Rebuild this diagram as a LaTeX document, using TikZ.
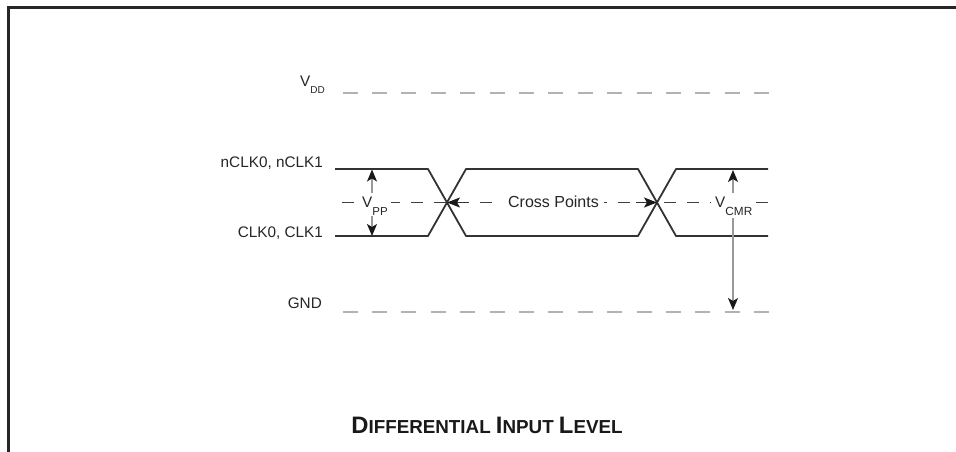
\documentclass[tikz,border=0pt]{standalone}
\usepackage{fontspec}
\setmainfont{Liberation Sans}
\usetikzlibrary{arrows.meta}
\newcommand\mysub[3]{\raisebox{-#2}{\fontsize{#3}{#3}\selectfont #1}}
\newcommand\fsc[2]{{\fontsize{23.8}{23.8}\selectfont #1}{\fontsize{18.8}{18.8}\selectfont #2}}
\begin{document}
\begin{tikzpicture}[x=1pt,y=-1pt,
  lbl/.style={font=\fontsize{15.3}{15.3}\selectfont, text=black!85, inner sep=0pt},
  sig/.style={line width=1.8pt, draw=black!80, line join=round},
  rail/.style={line width=2pt, draw=black!30, dash pattern=on 15pt off 14.4pt},
  midline/.style={line width=1.2pt, draw=black!75, dash pattern=on 12pt off 11pt},
  meas/.style={line width=1.3pt, draw=black!40, -{Stealth[length=12pt,width=10pt,inset=3pt,black!90]}},
  crossarr/.style={line width=1.2pt, draw=black!80, -{Stealth[length=13pt,width=10pt,inset=3pt,black!90]}},
  frame/.style={line width=3pt, draw=black!85}]
\useasboundingbox (0,0) rectangle (956,452);
\fill[white] (0,0) rectangle (956,452);
% frame
\draw[frame] (8.5,452) -- (8.5,7.5) -- (956,7.5);

% coordinates
\coordinate (vddL) at (342.5,93);
\coordinate (vddR) at (769,93);
\coordinate (gndL) at (342.5,312);
\coordinate (gndR) at (769,312);
\coordinate (midL) at (342,202.5);
\coordinate (midR) at (768,202.5);
\coordinate (x1) at (447,202.5);
\coordinate (x2) at (657,202.5);

% rails
\draw[rail] (vddL) -- (vddR);
\draw[rail] (gndL) -- (gndR);

% mid dashed line
\draw[midline] (midL) -- (midR);

% signals
\draw[sig] (335,169) -- (428,169) -- (466,236) -- (638,236) -- (676,169) -- (768,169);
\draw[sig] (335,236) -- (428,236) -- (466,169) -- (638,169) -- (676,236) -- (768,236);

% labels
\node[lbl, anchor=base west] (vdd) at (300,87) {V\mysub{DD}{6pt}{10}};
\node[lbl, anchor=base east] (nclk) at (323,167) {nCLK0, nCLK1};
\node[lbl, anchor=base east] (clk) at (323,237) {CLK0, CLK1};
\node[lbl, anchor=base east] (gnd) at (322,308) {GND};

\node[lbl, fill=white, inner xsep=3pt, anchor=base west] (vpp) at (359,207) {V\mysub{PP}{8pt}{11.5}};
\node[lbl, fill=white, inner xsep=5pt, anchor=base, font=\fontsize{16}{16}\selectfont] (cross) at (553.5,207) {Cross Points};
\node[lbl, fill=white, inner xsep=4pt, anchor=base west] (vcmr) at (711,207) {V\mysub{CMR}{8pt}{11.8}};

% VPP arrows
\coordinate (vppT) at (372,169.5);
\coordinate (vppB) at (372,236);
\coordinate (vppU) at (372,193);
\coordinate (vppD) at (372,216);
\draw[meas] (vppU) -- (vppT);
\draw[meas] (vppD) -- (vppB);

% VCMR arrows
\coordinate (cmrT) at (733,170);
\coordinate (cmrU) at (733,193);
\coordinate (cmrD) at (733,218);
\coordinate (cmrB) at (733,310);
\draw[meas] (cmrU) -- (cmrT);
\draw[meas] (cmrD) -- (cmrB);

% cross point arrows
\coordinate (a1) at (468,202.5);
\coordinate (a2) at (636,202.5);
\draw[crossarr] (a1) -- (x1);
\draw[crossarr] (a2) -- (x2);

% title
\node[anchor=base, font=\bfseries, text=black!90, inner sep=0pt] (title) at (487,433)
  {\fsc{D}{IFFERENTIAL\ }\fsc{I}{NPUT\ }\fsc{L}{EVEL}};
\end{tikzpicture}
\end{document}
